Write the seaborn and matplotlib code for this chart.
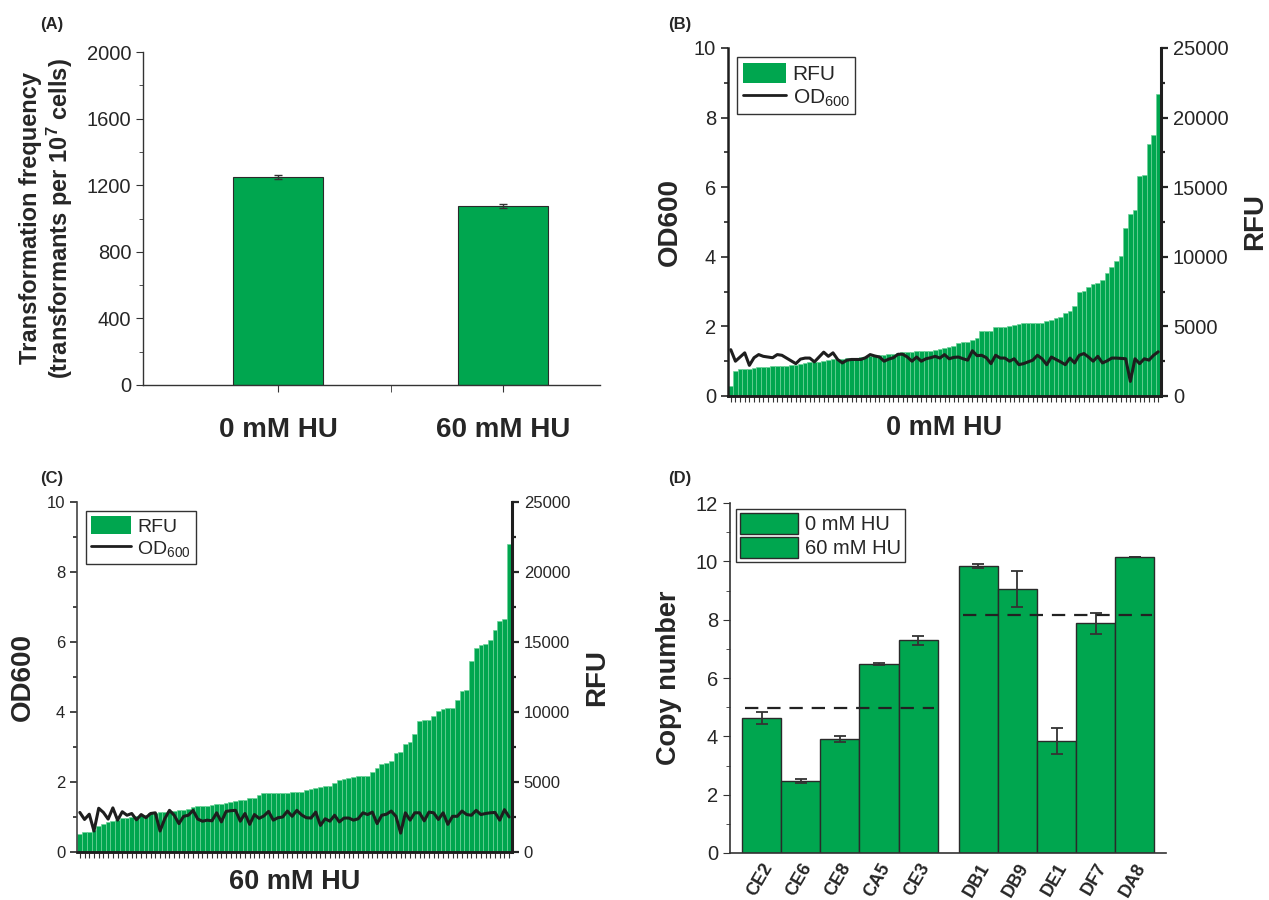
import numpy as np
import matplotlib
matplotlib.use("Agg")
import matplotlib.pyplot as plt
from matplotlib.patches import Patch
from matplotlib.lines import Line2D
from matplotlib.ticker import MultipleLocator
import seaborn as sns

# ---------------- data ----------------
# Panel A
a_groups = ["0 mM HU", "60 mM HU"]
a_freq = [1250, 1075]
a_err = [12, 14]

# Panel B (0 mM HU): sorted RFU per colony and OD600 of same colony
b_rfu = [700, 1800, 1920, 1945, 1970, 2040, 2065, 2065, 2090, 2135,
         2160, 2160, 2185, 2210, 2255, 2330, 2400, 2425, 2450, 2450,
         2495, 2570, 2640, 2665, 2690, 2710, 2760, 2760, 2785, 2810,
         2855, 2880, 2930, 2975, 3000, 3050, 3095, 3145, 3170, 3190,
         3215, 3215, 3240, 3265, 3335, 3405, 3480, 3525, 3620, 3840,
         3860, 3885, 4005, 4200, 4655, 4655, 4680, 4940, 4940, 4965,
         5040, 5110, 5180, 5230, 5255, 5255, 5280, 5280, 5375, 5495,
         5615, 5685, 5975, 6095, 6500, 7460, 7510, 7820, 8060, 8085,
         8325, 8805, 9235, 9690, 10030, 12070, 13050, 13340, 15830, 15880,
         18110, 18740, 21710]
b_od = [1.33, 1.00, 1.12, 1.24, 0.88, 1.10, 1.19, 1.14, 1.12, 1.10,
        1.19, 1.17, 1.09, 1.01, 0.93, 1.06, 1.09, 1.09, 0.98, 1.12,
        1.26, 1.14, 1.24, 1.05, 0.95, 1.03, 1.05, 1.05, 1.05, 1.10,
        1.19, 1.15, 1.12, 1.00, 1.06, 1.10, 1.20, 1.20, 1.12, 1.00,
        1.12, 1.00, 1.07, 1.10, 1.14, 1.09, 1.19, 1.07, 1.11, 1.12,
        1.07, 1.03, 1.30, 1.16, 1.17, 1.10, 0.93, 1.17, 1.09, 1.09,
        1.00, 1.07, 0.90, 0.93, 0.98, 1.03, 1.17, 1.07, 0.90, 1.12,
        1.05, 0.98, 0.90, 1.09, 0.95, 1.17, 1.22, 1.12, 1.00, 1.14,
        0.95, 1.01, 1.09, 1.09, 1.08, 1.07, 0.42, 1.07, 0.93, 1.07,
        1.03, 1.17, 1.27]

# Panel C (60 mM HU)
c_rfu = [1260, 1430, 1455, 1600, 1860, 2030, 2145, 2220, 2315, 2430,
         2455, 2505, 2550, 2625, 2670, 2790, 2815, 2860, 2885, 2910,
         2955, 2980, 3005, 3075, 3220, 3265, 3290, 3315, 3340, 3410,
         3460, 3530, 3580, 3670, 3695, 3745, 3840, 3865, 4055, 4200,
         4200, 4200, 4220, 4245, 4245, 4270, 4270, 4315, 4410, 4530,
         4605, 4650, 4720, 4745, 4935, 5175, 5245, 5320, 5340, 5415,
         5440, 5460, 5725, 6035, 6320, 6345, 6510, 7085, 7155, 7750,
         7870, 8420, 9325, 9395, 9420, 9705, 10090, 10230, 10255, 10280,
         10850, 11520, 11565, 13665, 14550, 14785, 14835, 15145, 15860, 16530,
         16625, 22015]
c_od = [1.13, 0.93, 1.08, 0.60, 1.25, 1.13, 0.94, 1.26, 0.91, 1.15,
        1.05, 1.10, 0.92, 1.07, 0.98, 1.10, 1.12, 0.60, 0.95, 1.19,
        1.05, 0.81, 1.02, 1.05, 1.19, 0.94, 0.88, 0.91, 0.89, 1.12,
        0.86, 1.16, 1.18, 1.19, 0.88, 1.10, 0.79, 1.07, 0.96, 1.03,
        1.16, 0.91, 0.98, 1.00, 1.17, 1.02, 1.19, 1.06, 0.98, 0.97,
        1.14, 0.76, 0.95, 0.88, 1.05, 0.86, 0.97, 0.97, 0.91, 0.95,
        1.12, 1.07, 1.14, 0.81, 1.05, 1.08, 1.17, 1.02, 0.54, 1.12,
        0.91, 1.12, 1.12, 0.89, 1.14, 1.12, 0.93, 1.12, 0.79, 1.02,
        1.02, 1.17, 1.07, 1.05, 1.19, 1.07, 1.10, 1.12, 1.13, 0.91,
        1.21, 1.00]

# Panel D
d_labels_0 = ["CE2", "CE6", "CE8", "CA5", "CE3"]
d_copy_0 = [4.63, 2.47, 3.91, 6.48, 7.29]
d_err_0 = [0.20, 0.07, 0.10, 0.02, 0.15]
d_labels_60 = ["DB1", "DB9", "DE1", "DF7", "DA8"]
d_copy_60 = [9.84, 9.04, 3.84, 7.87, 10.15]
d_err_60 = [0.07, 0.62, 0.44, 0.36, 0.01]

# ---------------- style ----------------
sns.set_style("ticks")
plt.rcParams["font.family"] = ["Liberation Sans", "DejaVu Sans"]
plt.rcParams["mathtext.fontset"] = "custom"
plt.rcParams["mathtext.rm"] = "Liberation Sans"
plt.rcParams["mathtext.bf"] = "Liberation Sans:bold"
plt.rcParams["mathtext.it"] = "Liberation Sans:italic"

GREEN = "#00a64f"
SEP = "#6fd39a"
DARK = "#1e1e1e"

W, H = 1269, 900
fig = plt.figure(figsize=(W / 100, H / 100), dpi=100)


def box(l, t, r, b):
    return [l / W, 1 - b / H, (r - l) / W, (b - t) / H]


# ---------------- Panel A ----------------
axA = fig.add_axes(box(143, 52, 600, 385))
sns.barplot(x=a_groups, y=a_freq, ax=axA, color=GREEN, width=0.4,
            edgecolor="#2a2a2a", linewidth=0.8, errorbar=None, saturation=1)
axA.errorbar(range(len(a_freq)), a_freq, yerr=a_err, fmt="none",
             ecolor="#333333", elinewidth=1, capsize=3, capthick=1)
axA.set_xlim(-0.6, 1.43)
axA.set_ylim(0, 2000)
axA.yaxis.set_major_locator(MultipleLocator(400))
axA.yaxis.set_minor_locator(MultipleLocator(200))
axA.set_xticks([0.5], minor=True)
sns.despine(ax=axA)
for s in ["left", "bottom"]:
    axA.spines[s].set_color("#333333")
    axA.spines[s].set_linewidth(1.0)
axA.tick_params(axis="y", which="major", labelsize=14.5, length=5, color="#333333")
axA.tick_params(axis="y", which="minor", length=3, color="#333333")
axA.tick_params(axis="x", which="both", length=5, color="#333333", pad=18)
for lab in axA.get_xticklabels():
    lab.set_fontsize(20)
    lab.set_fontweight("bold")
axA.set_xlabel("")
axA.set_ylabel("Transformation frequency\n(transformants per 10$^{\\mathbf{7}}$ cells)",
               fontsize=17, fontweight="bold", labelpad=8, linespacing=1.12)

# ---------------- Panels B and C ----------------

def rfu_panel(rect, rfu, od, xlabel, tick_fs, lab_fs, leg_fs, left_lw, left_col, xpad):
    n = len(rfu)
    idx = np.arange(n)
    ax = fig.add_axes(rect)
    ax2 = ax.twinx()
    sns.barplot(x=idx, y=rfu, ax=ax2, color=GREEN, width=1.0, saturation=1,
                edgecolor=SEP, linewidth=0.5, errorbar=None)
    sns.lineplot(x=idx, y=od, ax=ax, color=DARK, linewidth=2.2)
    ax.set_zorder(ax2.get_zorder() + 1)
    ax.patch.set_visible(False)
    ax.set_xlim(-0.6, n - 0.4)
    ax.set_ylim(0, 10)
    ax2.set_ylim(0, 25000)
    ax.yaxis.set_major_locator(MultipleLocator(2))
    ax.yaxis.set_minor_locator(MultipleLocator(1))
    ax2.yaxis.set_major_locator(MultipleLocator(5000))
    ax2.yaxis.set_minor_locator(MultipleLocator(2500))
    ax.set_xticks(idx)
    ax.tick_params(axis="x", labelbottom=False, length=4, width=0.8, color="#333333")
    ax.tick_params(axis="y", which="major", labelsize=tick_fs, length=5, width=1.2)
    ax.tick_params(axis="y", which="minor", length=3, width=1.2)
    ax2.tick_params(axis="y", which="major", labelsize=tick_fs, length=5, width=1.6)
    ax2.tick_params(axis="y", which="minor", length=3, width=1.6)
    for a in (ax, ax2):
        a.spines["top"].set_visible(False)
        a.spines["bottom"].set_linewidth(1.8)
        a.spines["bottom"].set_color(DARK)
    ax2.spines["right"].set_linewidth(2.2)
    ax2.spines["right"].set_color(DARK)
    ax.spines["left"].set_linewidth(left_lw)
    ax.spines["left"].set_color(left_col)
    ax2.spines["left"].set_visible(False)
    ax.spines["right"].set_visible(False)
    ax.set_ylabel("OD600", fontsize=lab_fs, fontweight="bold", labelpad=8)
    ax2.set_ylabel("RFU", fontsize=lab_fs, fontweight="bold", labelpad=10)
    ax.set_xlabel(xlabel, fontsize=19.5, fontweight="bold", labelpad=xpad)
    ax2.set_xlabel("")
    handles = [Patch(facecolor=GREEN, edgecolor="none", label="RFU"),
               Line2D([], [], color=DARK, lw=2, label="OD$_{\\mathrm{600}}$")]
    leg = ax.legend(handles=handles, loc="upper left", frameon=True, fancybox=False,
                    edgecolor="#333333", framealpha=1, fontsize=leg_fs,
                    borderpad=0.25, handlelength=2.1, handleheight=1.1,
                    handletextpad=0.3, labelspacing=0.12, borderaxespad=0.45)
    leg.get_frame().set_linewidth(1.0)
    return ax, ax2


rfu_panel(box(728, 48, 1161, 396), b_rfu, b_od, "0 mM HU", 14.5, 20, 15, 1.8, DARK, 10)
rfu_panel(box(77, 502, 512, 852), c_rfu, c_od, "60 mM HU", 12, 20, 14, 1.2, "#444444", 8)

# ---------------- Panel D ----------------
axD = fig.add_axes(box(730, 503, 1166, 853))
gap = 0.54
d_pos = list(np.arange(5, dtype=float)) + list(np.arange(5, dtype=float) + 5 + gap)
d_vals = d_copy_0 + d_copy_60
d_errs = d_err_0 + d_err_60
d_labels = d_labels_0 + d_labels_60
sns.barplot(x=d_pos, y=d_vals, ax=axD, native_scale=True, width=1.0, color=GREEN,
            saturation=1, edgecolor="#2a2a2a", linewidth=1.0, errorbar=None)
axD.errorbar(d_pos, d_vals, yerr=d_errs, fmt="none", ecolor="#333333",
             elinewidth=1.3, capsize=4, capthick=1.3, zorder=5)
m0 = float(np.mean(d_copy_0))
m60 = float(np.mean(d_copy_60))
axD.plot([d_pos[0] - 0.42, d_pos[4] + 0.4], [m0, m0], ls=(0, (6, 4)), color="#222222", lw=1.6, zorder=6)
axD.plot([d_pos[5] - 0.4, d_pos[9] + 0.44], [m60, m60], ls=(0, (6, 4)), color="#222222", lw=1.6, zorder=6)
axD.set_xlim(-0.81, 10.34)
axD.set_ylim(0, 12)
axD.yaxis.set_major_locator(MultipleLocator(2))
axD.yaxis.set_minor_locator(MultipleLocator(1))
axD.set_xticks(d_pos)
axD.set_xticklabels(d_labels, rotation=60, ha="right", rotation_mode="anchor",
                    fontsize=13, fontweight="bold")
axD.tick_params(axis="x", length=0, pad=5)
axD.tick_params(axis="y", which="major", labelsize=14.5, length=5, color="#333333")
axD.tick_params(axis="y", which="minor", length=3, color="#333333")
sns.despine(ax=axD)
for s in ["left", "bottom"]:
    axD.spines[s].set_color("#333333")
    axD.spines[s].set_linewidth(1.2)
axD.set_xlabel("")
axD.set_ylabel("Copy number", fontsize=19.5, fontweight="bold", labelpad=10)
dh = [Patch(facecolor=GREEN, edgecolor="#2a2a2a", linewidth=1.0, label="0 mM HU"),
      Patch(facecolor=GREEN, edgecolor="#2a2a2a", linewidth=1.0, label="60 mM HU")]
legD = axD.legend(handles=dh, loc="upper left", frameon=True, fancybox=False,
                  edgecolor="#333333", framealpha=1, fontsize=14.5, borderpad=0.2,
                  handlelength=2.9, handleheight=1.25, handletextpad=0.3,
                  labelspacing=0.1, borderaxespad=0.3)
legD.get_frame().set_linewidth(1.0)

# ---------------- panel letters ----------------
for txt, x, y in [("(A)", 40, 25), ("(B)", 668, 25), ("(C)", 40, 478), ("(D)", 668, 478)]:
    fig.text(x / W, 1 - y / H, txt, fontsize=12, fontweight="bold", va="center", ha="left")

fig.savefig("out.png", dpi=100)
